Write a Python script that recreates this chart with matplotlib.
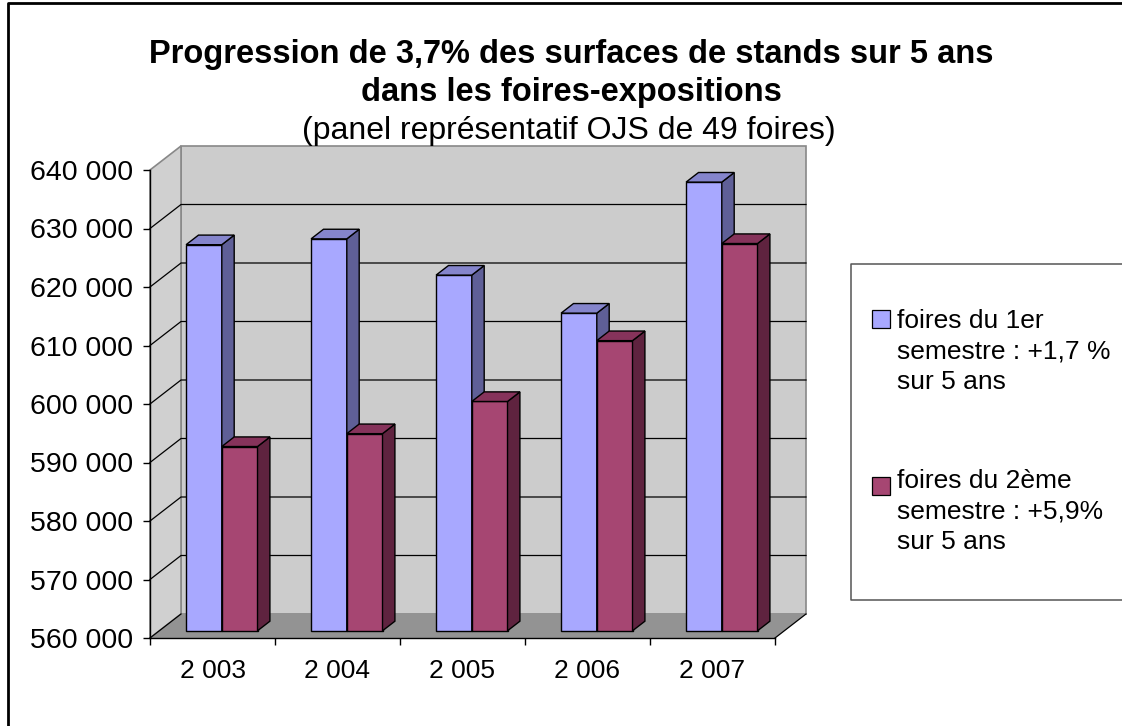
import matplotlib
matplotlib.use('Agg')
import matplotlib.pyplot as plt
from matplotlib.patches import Polygon, Rectangle
from matplotlib.lines import Line2D
from matplotlib.ticker import FixedLocator, FuncFormatter

plt.rcParams['font.family'] = ['Liberation Sans', 'DejaVu Sans']

# ---------------- data ----------------
years = ['2 003', '2 004', '2 005', '2 006', '2 007']
sem1 = [626000, 627000, 620800, 614300, 636700]
sem2 = [591500, 593700, 599200, 609600, 626200]
series_labels = ['foires du 1er\nsemestre : +1,7 %\nsur 5 ans',
                 'foires du 2ème\nsemestre : +5,9%\nsur 5 ans']
y_ticks = [560000, 570000, 580000, 590000, 600000, 610000, 620000, 630000, 640000]
title_lines = ['Progression de 3,7% des surfaces de stands sur 5 ans',
               'dans les foires-expositions',
               '(panel représentatif OJS de 49 foires)']

# ---------------- styles ----------------
front_cols = ['#A8A8FF', '#A64672']
side_cols = ['#5F5F97', '#5F233F']
top_cols = ['#8585CC', '#86335B']
wall_col = '#CCCCCC'
lwall_col = '#D0D0D0'
floor_col = '#939393'
edge_gray = '#888888'

W, H = 1122, 726
fig = plt.figure(figsize=(W / 100, H / 100), dpi=100)


def fx(px):
    return px / W


def fy(py):
    return 1 - py / H


ax_l, ax_r, ax_t, ax_b = 150, 775, 170, 638
ax = fig.add_axes([fx(ax_l), fy(ax_b), (ax_r - ax_l) / W, (ax_b - ax_t) / H])
ymin, ymax = y_ticks[0], y_ticks[-1]
n = len(years)
ax.set_xlim(0, n)
ax.set_ylim(ymin, ymax)
ax.patch.set_visible(False)

# depth offsets in data units (31 px right, 24 px up)
DX = 31 / (ax.bbox.width / n)
DY = 24 / (ax.bbox.height / (ymax - ymin))

# walls and floor
ax.add_patch(Rectangle((DX, ymin + DY), n, ymax - ymin, facecolor=wall_col,
                       edgecolor=edge_gray, lw=1.2, zorder=0.5, clip_on=False))
ax.add_patch(Polygon([(0, ymin), (0, ymax), (DX, ymax + DY), (DX, ymin + DY)],
                     closed=True, facecolor=lwall_col, edgecolor=edge_gray,
                     lw=1.2, zorder=0.6, clip_on=False))
ax.add_patch(Polygon([(0, ymin), (n, ymin), (n + DX, ymin + DY), (DX, ymin + DY)],
                     closed=True, facecolor=floor_col, edgecolor='none',
                     zorder=0.7, clip_on=False))
ax.plot([0, DX], [ymin, ymin + DY], color='black', lw=0.9, zorder=0.8, clip_on=False)
ax.plot([n, n + DX], [ymin, ymin + DY], color='black', lw=0.9, zorder=0.8, clip_on=False)

# gridlines on left wall and back wall
for v in y_ticks[1:-1]:
    ax.plot([0, DX, n + DX], [v, v + DY, v + DY], color='black', lw=0.9,
            zorder=1, clip_on=False)

# bars
w = 1 / 3.5
gap = 0.75 / 3.5
d0, d1 = 0.3, 0.7
dd = d1 - d0
for s, vals in enumerate([sem1, sem2]):
    xs = [i + gap + s * w + d0 * DX for i in range(n)]
    base = ymin + d0 * DY
    heights = [v - ymin for v in vals]
    z = 3 + s
    ax.bar(xs, heights, bottom=base, width=w, align='edge', color=front_cols[s],
           edgecolor='black', lw=1.0, zorder=z, clip_on=False)
    for x0, v in zip(xs, vals):
        xr = x0 + w
        top = v + d0 * DY
        ax.add_patch(Polygon([(xr, base), (xr, top), (xr + dd * DX, top + dd * DY),
                              (xr + dd * DX, base + dd * DY)], closed=True,
                             facecolor=side_cols[s], edgecolor='black', lw=1.0,
                             zorder=z, clip_on=False))
        ax.add_patch(Polygon([(x0, top), (xr, top), (xr + dd * DX, top + dd * DY),
                              (x0 + dd * DX, top + dd * DY)], closed=True,
                             facecolor=top_cols[s], edgecolor='black', lw=1.0,
                             zorder=z, clip_on=False))

# axes
for sp in ['top', 'right']:
    ax.spines[sp].set_visible(False)
for sp in ['left', 'bottom']:
    ax.spines[sp].set_color('black')
    ax.spines[sp].set_linewidth(1.0)
    ax.spines[sp].set_zorder(2)

ax.set_yticks(y_ticks)
ax.yaxis.set_major_formatter(FuncFormatter(lambda v, p: f'{int(v):,}'.replace(',', ' ')))
ax.tick_params(axis='y', direction='out', length=5, width=1, pad=7,
               labelsize=20.5, colors='black')

ax.xaxis.set_major_locator(FixedLocator(list(range(n + 1))))
ax.xaxis.set_major_formatter(FuncFormatter(lambda v, p: ''))
ax.set_xticks([i + 0.5 for i in range(n)], minor=True)
ax.set_xticklabels(years, minor=True)
ax.tick_params(axis='x', which='major', direction='out', length=5, width=1)
ax.tick_params(axis='x', which='minor', length=0, pad=15, labelsize=19)

# title
fig.text(fx(571), fy(63), title_lines[0], ha='center', va='baseline',
         fontsize=23.5, fontweight='bold')
fig.text(fx(571), fy(101), title_lines[1], ha='center', va='baseline',
         fontsize=23.5, fontweight='bold')
fig.text(fx(569), fy(139), title_lines[2], ha='center', va='baseline',
         fontsize=23)

# legend (manual, Excel-like; box runs off the right edge)
lg_l, lg_t, lg_b = 851, 264, 600
fig.patches.append(Rectangle((fx(lg_l), fy(lg_b)), (W - lg_l) / W, (lg_b - lg_t) / H,
                             transform=fig.transFigure, facecolor='white',
                             edgecolor='none', zorder=1))
fig.add_artist(Line2D([fx(W + 5), fx(lg_l), fx(lg_l), fx(W + 5)],
                      [fy(lg_t), fy(lg_t), fy(lg_b), fy(lg_b)],
                      transform=fig.transFigure, color='#555555', lw=1.1, zorder=2))
sq_tops = [310, 477]
base_first = [328, 488]
for s, lab in enumerate(series_labels):
    fig.patches.append(Rectangle((fx(872), fy(sq_tops[s] + 18)), 18 / W, 18 / H,
                                 transform=fig.transFigure, facecolor=front_cols[s],
                                 edgecolor='black', lw=0.9, zorder=2))
    for k, line in enumerate(lab.split('\n')):
        fig.text(fx(897), fy(base_first[s] + 30.5 * k), line, ha='left',
                 va='baseline', fontsize=19, zorder=3)

# outer chart border (top and left edges only; the rest is cropped)
fig.add_artist(Line2D([fx(7.5), fx(7.5), fx(W + 5)], [fy(H + 5), fy(3), fy(3)],
                      transform=fig.transFigure, color='black', lw=2.0, zorder=5))

fig.savefig('out.png', dpi=100)
